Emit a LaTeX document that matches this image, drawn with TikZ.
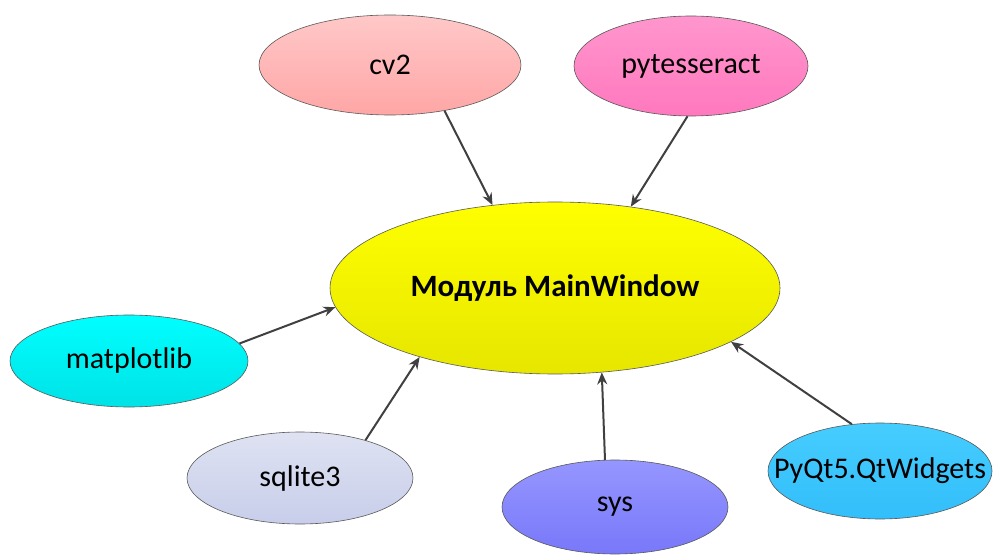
\documentclass[tikz,border=0pt]{standalone}
\usepackage{fontspec}
\setmainfont{Carlito}
\usetikzlibrary{shapes.geometric,arrows.meta}
\definecolor{arr}{HTML}{404040}
\tikzset{
  ell/.style={ellipse, draw=gray!70!black, line width=0.6pt, inner sep=0pt,
    font=\fontsize{30}{34}\selectfont},
  link/.style={draw=arr, line width=2pt, -{Stealth[length=12pt,width=10pt]}}
}
\begin{document}
\begin{tikzpicture}[x=1pt,y=-1pt]
\useasboundingbox (0,0) rectangle (996,556);
\node[ell, minimum width=262pt, minimum height=100pt, top color={rgb,255:red,255;green,200;blue,200}, bottom color={rgb,255:red,255;green,166;blue,166}] (cv2) at (390,65) {cv2};
\node[ell, minimum width=234pt, minimum height=100pt, top color={rgb,255:red,255;green,150;blue,205}, bottom color={rgb,255:red,255;green,120;blue,190}] (pyt) at (691,66) {pytesseract};
\node[ell, minimum width=450pt, minimum height=172pt, top color={rgb,255:red,255;green,255;blue,0}, bottom color={rgb,255:red,230;green,230;blue,0}, font=\fontsize{31}{35}\selectfont\bfseries] (main) at (555,288) {Модуль MainWindow};
\node[ell, minimum width=238pt, minimum height=92pt, top color={rgb,255:red,0;green,255;blue,255}, bottom color={rgb,255:red,0;green,226;blue,230}] (mpl) at (129,361) {matplotlib};
\node[ell, minimum width=226pt, minimum height=92pt, top color={rgb,255:red,222;green,226;blue,242}, bottom color={rgb,255:red,200;green,206;blue,234}] (sql) at (300,478) {sqlite3};
\node[ell, minimum width=226pt, minimum height=94pt, top color={rgb,255:red,150;green,150;blue,255}, bottom color={rgb,255:red,120;green,120;blue,250}] (sys) at (615,507) {sys};
\node[ell, minimum width=224pt, minimum height=96pt, top color={rgb,255:red,70;green,205;blue,255}, bottom color={rgb,255:red,50;green,190;blue,250}] (pyqt) at (880,471) {};
\node[font=\fontsize{30}{34}\selectfont, inner sep=0pt] (pyqtlbl) at (880,471) {PyQt5.QtWidgets};
\draw[link] (cv2.-40) -- (main.127);
\draw[link] (pyt.-94) -- (main.47);
\draw[link] (mpl.9) -- (main.185);
\draw[link] (sql.30) -- (main.207);
\draw[link] (sys.102) -- (main.-61);
\draw[link] (pyqt.121) -- (main.-17);
\end{tikzpicture}
\end{document}
